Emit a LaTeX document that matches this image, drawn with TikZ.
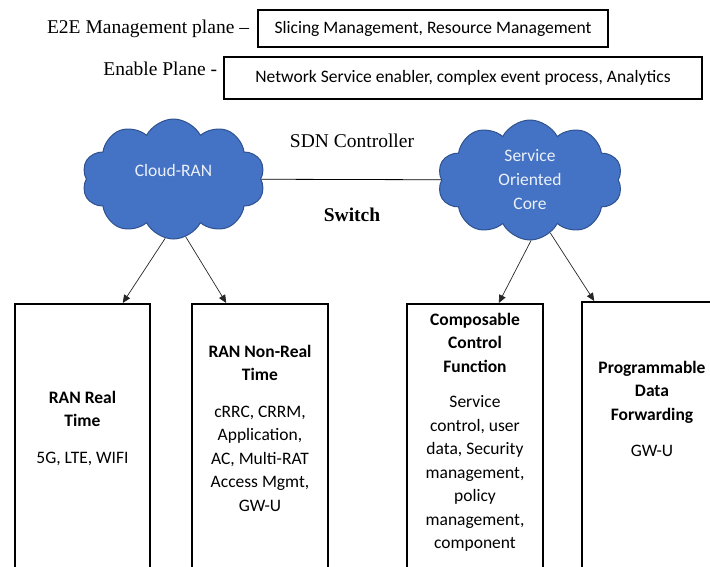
\documentclass[tikz,border=0pt]{standalone}
\usepackage{fontspec}
\setmainfont{Liberation Serif}
\newfontfamily\calibri{Carlito}
\usetikzlibrary{positioning, arrows.meta, shapes.symbols}
\definecolor{cloudblue}{HTML}{4472C4}
\definecolor{cloudedge}{HTML}{2F528F}

\begin{document}
\begin{tikzpicture}[x=1pt,y=-1pt,
  plane/.style={inner sep=0pt,font=\fontsize{19.5}{21}\selectfont},
  layer/.style={draw,line width=1.5pt,inner sep=0pt,font=\calibri\fontsize{17.5}{21}\selectfont},
  cloudnode/.style={cloud,cloud puffs=10,cloud puff arc=125,cloud ignores aspect,draw=cloudedge,fill=cloudblue,line width=1pt,text=white!90!cloudblue,font=\calibri\fontsize{17.5}{24}\selectfont,align=center,minimum width=183pt,minimum height=120pt,inner sep=0pt},
  func/.style={draw,line width=1.5pt,minimum width=136pt,minimum height=280pt,anchor=north,inner sep=0pt},
  functext/.style={anchor=north,align=center,inner sep=0pt,font=\calibri\fontsize{17.5}{23.5}\selectfont},
  arrow/.style={-{Triangle[length=8pt,width=7pt]},line width=0.7pt,black!85},
]
\useasboundingbox (0,0) rectangle (710,566);

\node[layer,minimum width=350pt,minimum height=37pt] (mgmt) at (433,28.5) {Slicing Management, Resource Management};
\node[plane,left=8pt of mgmt] (mgmtlbl) {E2E Management plane \textendash};
\node[layer,minimum width=478pt,minimum height=42pt] (enable) at (463,78) {Network Service enabler, complex event process, Analytics};
\node[plane,anchor=east] (enablelbl) at ([xshift=-6pt,yshift=9pt]enable.west) {Enable Plane -};

\node[cloudnode] (cran) at (173.5,179) {\raisebox{3pt}[0pt][0pt]{Cloud-RAN}};
\node[cloudnode,minimum width=185pt] (soc) at (530,180) {Service\\Oriented\\Core};
\draw[line width=0.8pt] (cran) -- (soc);

\node[plane] (sdn) at (352,141) {SDN Controller};
\node[plane,font=\bfseries\fontsize{19.5}{21}\selectfont] (switch) at (352,215) {Switch};

\node[func,minimum width=135pt] (boxa) at (82.5,303) {};
\node[func] (boxb) at (260,303) {};
\node[func] (boxc) at (475,303) {};
\node[func,minimum width=140pt] (boxd) at (652,301) {};

\node[functext,below=88pt of boxa.north] (ta) {\textbf{RAN Real}\\\textbf{Time}\\[13pt]5G, LTE, WIFI};
\node[functext,below=42pt of boxb.north] (tb) {\textbf{RAN Non-Real}\\\textbf{Time}\\[13pt]cRRC, CRRM,\\Application,\\AC, Multi-RAT\\Access Mgmt,\\GW-U};
\node[functext,below=10pt of boxc.north] (tc) {\textbf{Composable}\\\textbf{Control}\\\textbf{Function}\\[12pt]Service\\control, user\\data, Security\\management,\\policy\\management,\\component};
\node[functext,below=60pt of boxd.north] (td) {\textbf{Programmable}\\\textbf{Data}\\\textbf{Forwarding}\\[13pt]GW-U};

\draw[arrow] (cran.-98) -- ([xshift=-28pt]boxa.north east);
\draw[arrow] (cran.-78) -- ([xshift=35pt]boxb.north west);
\draw[arrow] (soc.-89) -- ([xshift=-45pt]boxc.north east);
\draw[arrow] (soc.-69) -- ([xshift=13pt]boxd.north west);

\end{tikzpicture}
\end{document}
